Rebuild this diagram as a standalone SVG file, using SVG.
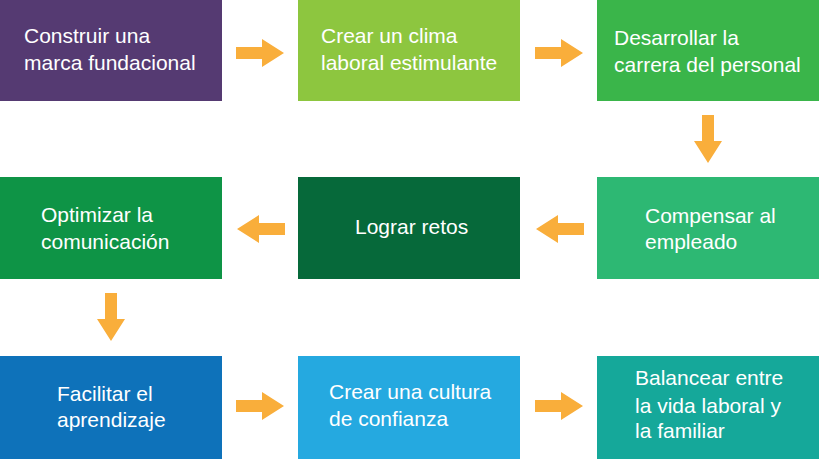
<svg xmlns="http://www.w3.org/2000/svg" width="819" height="459" viewBox="0 0 819 459">
<style>
  text { font-family: "Liberation Sans", Arial, sans-serif; font-size: 21px; fill: #ffffff; }
  .arrow { fill: #F9AE3B; }
</style>
<defs>
  <path id="arR" d="M0,-6 L26,-6 L26,-14 L48,0 L26,14 L26,6 L0,6 Z"/>
</defs>
<rect width="819" height="459" fill="#ffffff"/>
<g id="n1"><rect x="0" y="0" width="222" height="101" fill="#553A72"/><text x="24" y="43">Construir una</text><text x="24" y="70">marca fundacional</text></g>
<g id="n2"><rect x="298" y="0" width="222" height="101" fill="#8DC63F"/><text x="321" y="43">Crear un clima</text><text x="321" y="70">laboral estimulante</text></g>
<g id="n3"><rect x="597" y="0" width="222" height="101" fill="#3AB54A"/><text x="614" y="45">Desarrollar la</text><text x="614" y="72">carrera del personal</text></g>
<g id="n4"><rect x="597" y="177" width="222" height="102" fill="#2DB873"/><text x="645" y="223">Compensar al</text><text x="645" y="249">empleado</text></g>
<g id="n5"><rect x="298" y="177" width="222" height="102" fill="#06693A"/><text x="355" y="234">Lograr retos</text></g>
<g id="n6"><rect x="0" y="177" width="222" height="102" fill="#0E9446"/><text x="41" y="222">Optimizar la</text><text x="41" y="249">comunicación</text></g>
<g id="n7"><rect x="0" y="356" width="222" height="103" fill="#0E72BA"/><text x="57" y="401">Facilitar el</text><text x="57" y="427">aprendizaje</text></g>
<g id="n8"><rect x="298" y="356" width="222" height="103" fill="#25A9E0"/><text x="329" y="399">Crear una cultura</text><text x="329" y="426">de confianza</text></g>
<g id="n9"><rect x="597" y="356" width="222" height="103" fill="#15A89A"/><text x="635" y="385">Balancear entre</text><text x="635" y="413">la vida laboral y</text><text x="635" y="438">la familiar</text></g>
<g id="connectors" class="arrow">
  <use href="#arR" transform="translate(236,53)"/>
  <use href="#arR" transform="translate(535,53)"/>
  <use href="#arR" transform="translate(708,115) rotate(90)"/>
  <use href="#arR" transform="translate(584,229) rotate(180)"/>
  <use href="#arR" transform="translate(285,229) rotate(180)"/>
  <use href="#arR" transform="translate(111,293) rotate(90)"/>
  <use href="#arR" transform="translate(236,406)"/>
  <use href="#arR" transform="translate(535,406)"/>
</g>
</svg>
